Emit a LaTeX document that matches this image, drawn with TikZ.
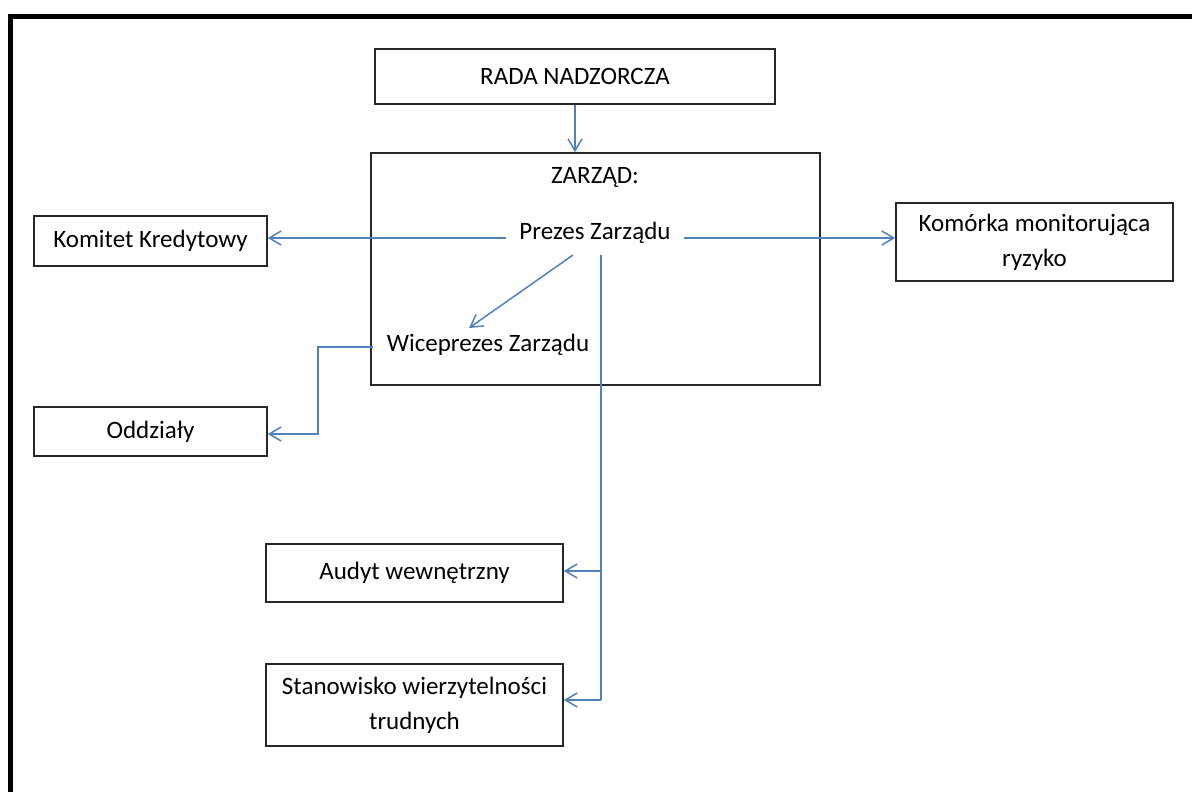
\documentclass[tikz,border=0pt]{standalone}
\usepackage{fontspec}
\setmainfont{Carlito}
\usetikzlibrary{arrows.meta}
\definecolor{conn}{RGB}{79,129,189}
\definecolor{boxline}{RGB}{40,40,40}
\tikzset{
  box/.style={draw=boxline, line width=1.5pt, rectangle, inner sep=0pt, align=center, font=\fontsize{25}{35}\selectfont},
  lbl/.style={inner sep=0pt, font=\fontsize{25}{30}\selectfont},
  conn/.style={draw=conn, line width=1.5pt, -{Straight Barb[length=12pt,width=14pt,line width=1.5pt]}},
  connplain/.style={draw=conn, line width=1.5pt}
}
\begin{document}
\begin{tikzpicture}[x=1pt,y=-1pt]
\useasboundingbox (0,0) rectangle (1192,792);
\begin{scope}
\clip (0,0) rectangle (1192,792);
\draw[line width=5pt, black] (10,16.5) rectangle (1210,810);
\end{scope}
% boxes
\node[box, minimum width=400, minimum height=55] (rada) at (575,76.5) {RADA NADZORCZA};
\node[box, minimum width=449, minimum height=232] (zarzad) at (595.5,269) {};
\node[lbl] (zt) at (595,177) {ZARZĄD:};
\node[lbl, inner xsep=13pt, inner ysep=4pt] (prezes) at (595,233) {Prezes Zarządu};
\node[lbl, inner xsep=14pt, inner ysep=4pt] (wice) at (488,345) {Wiceprezes Zarządu};
\node[box, minimum width=233, minimum height=50] (komitet) at (150.5,241) {Komitet Kredytowy};
\node[box, minimum width=277, minimum height=78] (komorka) at (1034.5,242) {Komórka monitorująca\\ryzyko};
\node[box, minimum width=233, minimum height=49] (oddzialy) at (150.5,431.5) {Oddziały};
\node[box, minimum width=297, minimum height=58] (audyt) at (414.5,573) {Audyt wewnętrzny};
\node[box, minimum width=297, minimum height=82] (stan) at (414.5,705) {Stanowisko wierzytelności\\trudnych};
% connectors
\draw[conn] (rada.south) -- (rada.south |- zarzad.north);
\draw[conn] (prezes.west |- 0,238) -- (komitet.east |- 0,238);
\draw[conn] (prezes.east |- 0,238) -- (komorka.west |- 0,238);
\coordinate (d1) at (573,255);
\coordinate (d2) at (469,328);
\draw[conn] (d1) -- (d2);
\coordinate (v0) at (601,255);
\coordinate (va) at (601,571);
\coordinate (vs) at (601,700);
\draw[connplain] (v0) -- (vs);
\draw[conn] (va) -- (audyt.east |- va);
\draw[conn] (vs) -- (stan.east |- vs);
\coordinate (w1) at (318,347);
\coordinate (w2) at (318,434);
\draw[conn] (wice.west |- w1) -- (w1) -- (w2) -- (oddzialy.east |- w2);
\end{tikzpicture}
\end{document}
